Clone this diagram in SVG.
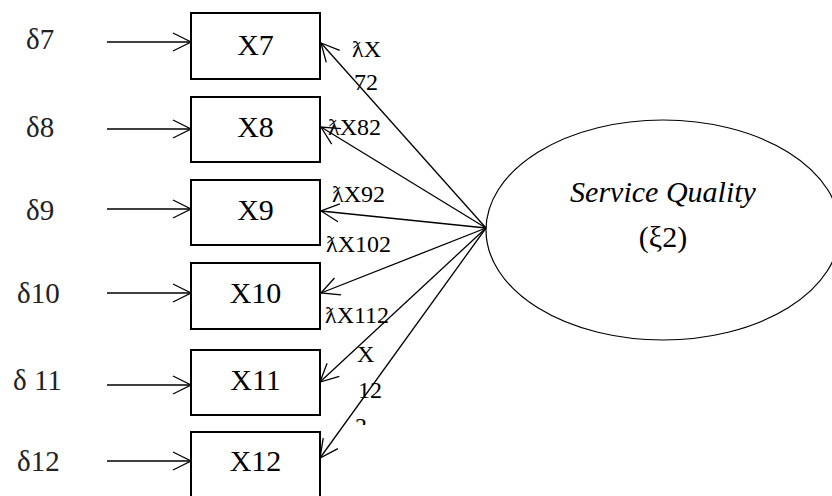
<svg xmlns="http://www.w3.org/2000/svg" width="832" height="496" viewBox="0 0 832 496">
<style>
.box{fill:#fff;stroke:#000;stroke-width:2}
text{font-family:'Liberation Serif','Times New Roman','DejaVu Serif',serif}
.t{font-size:30px;fill:#000}
.lab{font-size:24px;fill:#000}
.d{font-size:29px;fill:#222}
.c{stroke:#000;stroke-width:1.3;fill:none;marker-end:url(#ah)}
</style>
<defs>
<marker id="ah" markerUnits="userSpaceOnUse" markerWidth="40" markerHeight="40" refX="0" refY="0" orient="auto" overflow="visible" viewBox="-20 -20 40 40">
<path d="M-18,-9 L0,0 L-18,9" fill="none" stroke="#000" stroke-width="1.3"/>
</marker>
<clipPath id="clip12"><rect x="340" y="330" width="60" height="95"/></clipPath>
</defs>
<rect width="832" height="496" fill="#fff"/>
<g id="connectors">
<line class="c" x1="107" y1="42" x2="191" y2="42"/>
<line class="c" x1="107" y1="129" x2="191" y2="129"/>
<line class="c" x1="107" y1="209" x2="191" y2="209"/>
<line class="c" x1="107" y1="293" x2="191" y2="293"/>
<line class="c" x1="107" y1="385" x2="191" y2="385"/>
<line class="c" x1="107" y1="461" x2="191" y2="461"/>
<line class="c" x1="486" y1="228" x2="321" y2="43"/>
<line class="c" x1="486" y1="228" x2="321" y2="127"/>
<line class="c" x1="486" y1="228" x2="321" y2="211"/>
<line class="c" x1="486" y1="228" x2="321" y2="293"/>
<line class="c" x1="486" y1="228" x2="320" y2="382"/>
<line class="c" x1="486" y1="228" x2="320" y2="458"/>
<text class="lab" x="352" y="57">ƛX</text>
<text class="lab" x="354" y="90">72</text>
<text class="lab" x="328" y="135">ƛX82</text>
<text class="lab" x="332" y="202">ƛX92</text>
<text class="lab" x="326" y="252">ƛX102</text>
<text class="lab" x="325" y="323">ƛX112</text>
<g clip-path="url(#clip12)">
<text class="lab" x="357" y="362">X</text>
<text class="lab" x="358" y="398">12</text>
<text class="lab" x="355" y="434">2</text>
</g>
</g>
<g id="d7"><text class="d" x="26" y="49">δ7</text></g>
<g id="d8"><text class="d" x="26" y="137">δ8</text></g>
<g id="d9"><text class="d" x="26" y="220">δ9</text></g>
<g id="d10"><text class="d" x="17" y="303">δ10</text></g>
<g id="d11"><text class="d" x="13" y="390">δ 11</text></g>
<g id="d12"><text class="d" x="17" y="471">δ12</text></g>
<g id="X7"><rect class="box" x="191" y="13" width="129" height="66"/><text class="t" x="255.5" y="55" text-anchor="middle">X7</text></g>
<g id="X8"><rect class="box" x="191" y="97" width="129" height="65"/><text class="t" x="255.5" y="137" text-anchor="middle">X8</text></g>
<g id="X9"><rect class="box" x="191" y="180" width="129" height="65"/><text class="t" x="255.5" y="220" text-anchor="middle">X9</text></g>
<g id="X10"><rect class="box" x="191" y="263" width="129" height="66"/><text class="t" x="255.5" y="303" text-anchor="middle">X10</text></g>
<g id="X11"><rect class="box" x="191" y="350" width="129" height="65"/><text class="t" x="255.5" y="390" text-anchor="middle">X11</text></g>
<g id="X12"><rect class="box" x="191" y="432" width="129" height="70"/><text class="t" x="255.5" y="471" text-anchor="middle">X12</text></g>
<g id="SQ">
<ellipse cx="663" cy="230" rx="177" ry="110" fill="none" stroke="#000" stroke-width="1.2"/>
<text class="t" x="663" y="202" text-anchor="middle" font-style="italic" font-size="32">Service Quality</text>
<text class="t" x="663" y="247" text-anchor="middle">(ξ2)</text>
</g>
</svg>
